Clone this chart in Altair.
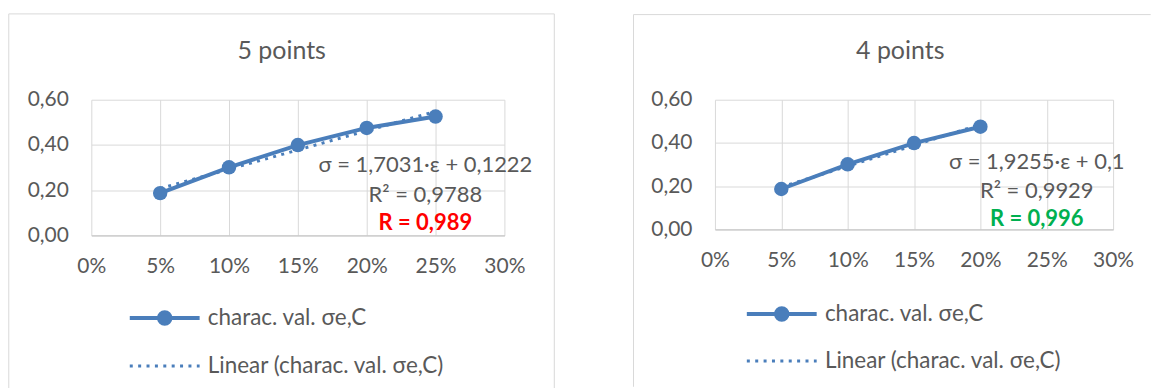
import altair as alt
import pandas as pd

# ---------------- data ----------------
EPS_5 = [0.05, 0.10, 0.15, 0.20, 0.25]
SIGMA_5 = [0.187, 0.301, 0.3995, 0.4752, 0.5256]
EPS_4 = [0.05, 0.10, 0.15, 0.20]
SIGMA_4 = [0.187, 0.301, 0.3995, 0.4752]
X_TICKS = [0, 0.05, 0.10, 0.15, 0.20, 0.25, 0.30]
Y_TICKS = [0, 0.2, 0.4, 0.6]
TITLES = ["5 points", "4 points"]
EQUATIONS = ["σ = 1,7031·ε + 0,1222", "σ = 1,9255·ε + 0,1"]
R2_LABELS = ["R² = 0,9788", "R² = 0,9929"]
R_LABELS = ["R = 0,989", "R = 0,996"]
SERIES = "charac. val. σe,C"
TREND = "Linear (charac. val. σe,C)"

# ---------------- styles ----------------
BLUE = "#4A7EBB"
GRID = "#D9D9D9"
FRAME = "#D9D9D9"
TXT = "#595959"
RED = "#FF0000"
GREEN = "#00B050"
FONT = "Lato"
TICK_FS = 21
TITLE_FS = 25
ANN_FS = 22
LEG_FS = 22.5

SERIES_SYMBOL = ("M-7,0L7,0M-1.15,0A1.15,1.15,0,1,0,1.15,0"
                 "A1.15,1.15,0,1,0,-1.15,0Z")
TREND_SYMBOL = "M-7,0L7,0"


def one(text):
    return alt.Chart(pd.DataFrame({"t": [text]}))


def rule(x1, x2, y1, y2, opacity=1.0, color=FRAME):
    return one("").mark_rule(color=color, strokeWidth=1, strokeOpacity=opacity).encode(
        x=alt.value(x1), x2=alt.value(x2), y=alt.value(y1), y2=alt.value(y2)
    )


def panel(eps, sig, W, H, frame_rules, title, title_xy, eq, r2, r, rcol,
          ann_x, ann_y, leg_x, leg_y):
    df = pd.DataFrame({"eps": eps, "sigma": sig, "series": SERIES})
    x = alt.X(
        "eps:Q",
        scale=alt.Scale(domain=[0, 0.3], nice=False, zero=False),
        axis=alt.Axis(
            values=X_TICKS, format=".0%", title=None, grid=True, gridColor=GRID,
            ticks=False, domain=True, domainColor="#C8C8C8", domainWidth=1.2,
            labelFont=FONT, labelFontSize=TICK_FS, labelColor=TXT,
            labelPadding=31, labelBaseline="middle", labelFlush=False,
        ),
    )
    y = alt.Y(
        "sigma:Q",
        scale=alt.Scale(domain=[0, 0.6], nice=False),
        axis=alt.Axis(
            values=Y_TICKS, title=None, grid=True, gridColor=GRID, ticks=False,
            domain=False, labelFont=FONT, labelFontSize=TICK_FS, labelColor=TXT,
            labelPadding=23, labelBaseline="middle", labelFlush=False,
            labelExpr="replace(format(datum.value, '.2f'), '.', ',')",
        ),
    )
    color = alt.Color(
        "series:N",
        scale=alt.Scale(domain=[SERIES], range=[BLUE]),
        legend=alt.Legend(
            title=None, orient="none", legendX=leg_x, legendY=leg_y[0],
            symbolType=SERIES_SYMBOL, symbolSize=100, symbolStrokeWidth=4,
            symbolFillColor=BLUE, symbolStrokeColor=BLUE, symbolOpacity=1,
            labelFont=FONT, labelFontSize=LEG_FS, labelColor=TXT, labelOffset=32,
            labelLimit=0, padding=0,
        ),
    )
    base = alt.Chart(df)
    line = base.mark_line(strokeWidth=4).encode(x=x, y=y, color=color)
    trend = (
        base.transform_regression("eps", "sigma")
        .transform_calculate(trend="'" + TREND + "'")
        .mark_line(strokeWidth=3, color=BLUE)
        .encode(
            x=x, y=y,
            strokeDash=alt.StrokeDash(
                "trend:N",
                scale=alt.Scale(domain=[TREND], range=[[3, 5.4]]),
                legend=alt.Legend(
                    title=None, orient="none", legendX=leg_x, legendY=leg_y[1],
                    symbolType=TREND_SYMBOL, symbolSize=100, symbolStrokeWidth=3,
                    symbolStrokeColor=BLUE, symbolOpacity=1,
                    labelFont=FONT, labelFontSize=LEG_FS, labelColor=TXT,
                    labelOffset=32, labelLimit=0, padding=0,
                ),
            ),
        )
    )
    pts = base.mark_point(filled=True, size=210, opacity=1).encode(x=x, y=y, color=color)

    def txt(s, xx, yy, size, colr, weight="normal"):
        return one(s).mark_text(
            font=FONT, fontSize=size, color=colr, fontWeight=weight,
            align="center", baseline="middle",
        ).encode(x=alt.value(xx), y=alt.value(yy), text="t:N")

    layers = [rule(*fr[:4], opacity=fr[4]) for fr in frame_rules]
    layers += [
        line, trend, pts,
        txt(title, title_xy[0], title_xy[1], TITLE_FS, TXT),
        txt(eq, ann_x, ann_y[0], ANN_FS, TXT),
        txt(r2, ann_x, ann_y[1], ANN_FS, TXT),
        txt(r, ann_x, ann_y[2], ANN_FS, rcol, "bold"),
    ]
    return alt.layer(*layers).properties(width=W, height=H)


left = panel(
    EPS_5, SIGMA_5, 414, 136,
    frame_rules=[(-82.7, -82.7, -86, 291, 1), (-82.7, 464, -86, -86, 1),
                 (464, 464, -86, 291, 1)],
    title=TITLES[0], title_xy=(190.8, -49),
    eq=EQUATIONS[0], r2=R2_LABELS[0], r=R_LABELS[0], rcol=RED,
    ann_x=334.8, ann_y=(65.7, 95.7, 124),
    leg_x=62.3, leg_y=(207.5, 255.7),
)
right = panel(
    EPS_4, SIGMA_4, 399, 130,
    frame_rules=[(-81.6, -81.6, -85.3, 287.7, 1), (-81.6, 436.7, -85.3, -85.3, 1),
                 (0, 10, -89.3, -89.3, 0)],
    title=TITLES[1], title_xy=(185.7, -48.3),
    eq=EQUATIONS[1], r2=R2_LABELS[1], r=R_LABELS[1], rcol=GREEN,
    ann_x=322.5, ann_y=(62.7, 91.7, 119.7),
    leg_x=55.7, leg_y=(203.5, 250.5),
)

chart = (
    alt.hconcat(left, right, spacing=77)
    .resolve_scale(color="independent", strokeDash="independent")
    .resolve_legend(color="independent", strokeDash="independent")
    .properties(padding={"left": 7.5, "top": 9.5, "right": 0, "bottom": 0},
                background="white")
    .configure_view(stroke=None)
)

chart.save("out.html", embed_options={"renderer": "svg", "actions": False})
